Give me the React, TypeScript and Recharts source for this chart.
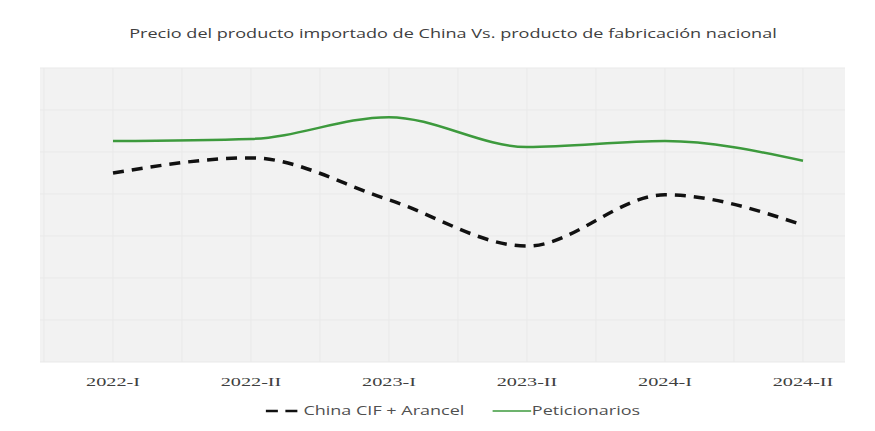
import { LineChart, Line, XAxis, YAxis, CartesianGrid } from "recharts";

const periods = ["2022-I", "2022-II", "2023-I", "2023-II", "2024-I", "2024-II"];
const chinaCifArancel = [45, 48.6, 38.6, 27.6, 39.8, 32.6];
const peticionarios = [52.6, 53.1, 58.3, 51.2, 52.6, 47.9];
const yTicks = [0, 10, 20, 30, 40, 50, 60, 70];

const data = periods.map((p, i) => ({
  period: p,
  china: chinaCifArancel[i],
  peti: peticionarios[i],
}));

const GREEN = "#3d9a3d";
const PAD_L = 73;
const PAD_R = 42;
// the reference text is drawn wide, so stretch it a bit
const STRETCH = 1.5;

// vertical grid at each category and half way between them
function gridX(props: any) {
  const { left, width } = props.offset;
  const step = (width - PAD_L - PAD_R) / (periods.length - 1);
  const out: number[] = [];
  for (let i = -1; i < periods.length * 2; i++) {
    const x = left + PAD_L + (i * step) / 2;
    if (x > left + 2 && x < left + width - 2) out.push(x);
  }
  return out;
}

function WideTick({ x, y, payload }: any) {
  return (
    <g transform={`translate(${x},${y + 16})`}>
      <text
        transform={`scale(${STRETCH},1)`}
        textAnchor="middle"
        fontFamily="'Liberation Serif', serif"
        fontSize={13.5}
        fill="#404040"
      >
        {payload.value}
      </text>
    </g>
  );
}

function Legend() {
  return (
    <div
      style={{
        position: "absolute",
        top: 402,
        left: 0,
        width: 875,
        display: "flex",
        justifyContent: "center",
      }}
    >
      <div
        style={{
          display: "flex",
          alignItems: "center",
          gap: 19,
          fontFamily: "'Open Sans', sans-serif",
          fontSize: 12,
          color: "#505050",
          transform: `scaleX(${STRETCH})`,
          marginLeft: 30,
        }}
      >
        <span style={{ display: "flex", alignItems: "center" }}>
          <svg width={26} height={10}>
            <line x1={1} y1={5} x2={26} y2={5} stroke="#111" strokeWidth={2.5} strokeDasharray="8 5" />
          </svg>
          China CIF + Arancel
        </span>
        <span style={{ display: "flex", alignItems: "center" }}>
          <svg width={26} height={10}>
            <line x1={0} y1={5} x2={26} y2={5} stroke={GREEN} strokeWidth={1.5} />
          </svg>
          Peticionarios
        </span>
      </div>
    </div>
  );
}

export default function App() {
  return (
    <div style={{ position: "absolute", left: 0, top: 0, width: 875, height: 431, background: "#fff" }}>
      <div
        style={{
          position: "absolute",
          top: 24,
          left: 30,
          width: 845,
          display: "flex",
          justifyContent: "center",
        }}
      >
        <div
          style={{
            fontFamily: "'Open Sans', sans-serif",
            fontSize: 13,
            color: "#404040",
            transform: "scaleX(1.39)",
            whiteSpace: "nowrap",
          }}
        >
          Precio del producto importado de China Vs. producto de fabricación nacional
        </div>
      </div>
      <LineChart width={875} height={431} data={data} margin={{ top: 68, right: 30, left: 40, bottom: 39 }}>
        <CartesianGrid
          fill="#f2f2f2"
          stroke="#e9e9e9"
          horizontal
          vertical
          verticalCoordinatesGenerator={gridX}
        />
        <XAxis
          dataKey="period"
          axisLine={false}
          tickLine={false}
          padding={{ left: PAD_L, right: PAD_R }}
          tick={<WideTick />}
          interval={0}
        />
        <YAxis hide domain={[0, 70]} ticks={yTicks} />
        <Line
          type="monotone"
          dataKey="china"
          stroke="#111"
          strokeWidth={3.5}
          strokeDasharray="11 8"
          dot={false}
          isAnimationActive={false}
        />
        <Line
          type="monotone"
          dataKey="peti"
          stroke={GREEN}
          strokeWidth={2.5}
          dot={false}
          isAnimationActive={false}
        />
      </LineChart>
      <Legend />
    </div>
  );
}
